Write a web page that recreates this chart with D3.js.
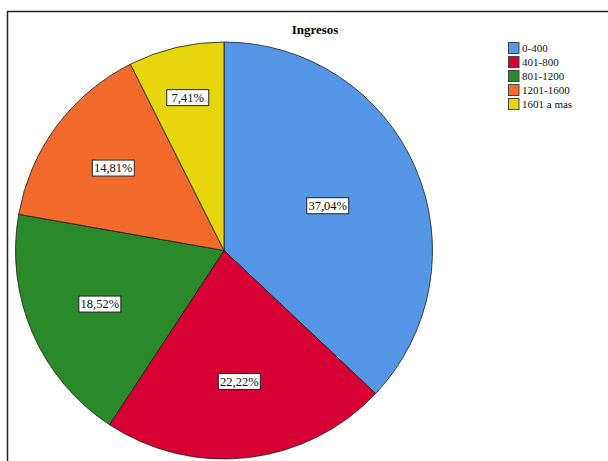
<!DOCTYPE html>
<html><head><meta charset="utf-8">
<script src="https://cdn.jsdelivr.net/npm/d3@7"></script>
<style>body{margin:0;background:#fff}svg{display:block}text{font-family:"Liberation Serif","DejaVu Serif",serif}</style>
</head><body>
<script>
const categories = ["0-400", "401-800", "801-1200", "1201-1600", "1601 a mas"];
const counts = [10, 6, 5, 4, 2];
const percentLabels = ["37,04%", "22,22%", "18,52%", "14,81%", "7,41%"];
const colors = ["#5597e6", "#d60032", "#2a8a29", "#f26b2c", "#e5d60e"];
const title = "Ingresos";

const W = 608, H = 461;
const svg = d3.select("body").append("svg").attr("width", W).attr("height", H);

// frame
svg.append("rect").attr("x", 7.5).attr("y", 11.5).attr("width", 800).attr("height", 600)
  .attr("fill", "none").attr("stroke", "#222").attr("stroke-width", 1.5);

svg.append("text").attr("x", 315).attr("y", 34).attr("text-anchor", "middle")
  .attr("font-weight", "bold").attr("font-size", 13).text(title);

const cx = 224, cy = 250.5, R = 208.5;
const data = categories.map((c, i) => ({cat: c, v: counts[i], lab: percentLabels[i], col: colors[i]}));
const pie = d3.pie().value(d => d.v).sort(null);
const arc = d3.arc().innerRadius(0).outerRadius(R);
const arcs = pie(data);
const g = svg.append("g").attr("transform", `translate(${cx},${cy})`);
g.selectAll("path").data(arcs).join("path")
  .attr("d", arc).attr("fill", d => d.data.col)
  .attr("stroke", "#1a1a1a").attr("stroke-width", 0.8);

// labels near sector centroid (pushed outward for narrow slices)
const lg = g.selectAll("g.lab").data(arcs).join("g").attr("class", "lab")
  .attr("transform", d => {
    const a = (d.endAngle - d.startAngle) / 2;
    const mid = (d.startAngle + d.endAngle) / 2;
    let r = (2 / 3) * R * Math.sin(a) / a * 1.03;
    if (a < 0.5) r = Math.max(r, R * (0.62 + 0.25 * (1 - a / 0.5)));
    return `translate(${r * Math.sin(mid)},${-r * Math.cos(mid)})`;
  });
lg.append("rect").attr("x", -21).attr("y", -8).attr("width", 42).attr("height", 16)
  .attr("fill", "#fff").attr("stroke", "#222").attr("stroke-width", 1);
lg.append("text").attr("text-anchor", "middle").attr("dy", "0.35em")
  .attr("font-size", 12.5).attr("fill", "#111").text(d => d.data.lab);

// legend
const leg = svg.append("g").attr("transform", "translate(508,42)");
const li = leg.selectAll("g").data(data).join("g").attr("transform", (d, i) => `translate(0,${i * 14})`);
li.append("rect").attr("x", 0.5).attr("y", 0.5).attr("width", 10.5).attr("height", 11)
  .attr("fill", d => d.col).attr("stroke", "#444").attr("stroke-width", 1);
li.append("text").attr("x", 14).attr("y", 6).attr("dy", "0.35em")
  .attr("font-size", 11).attr("fill", "#111").text(d => d.cat);
</script>
</body></html>
